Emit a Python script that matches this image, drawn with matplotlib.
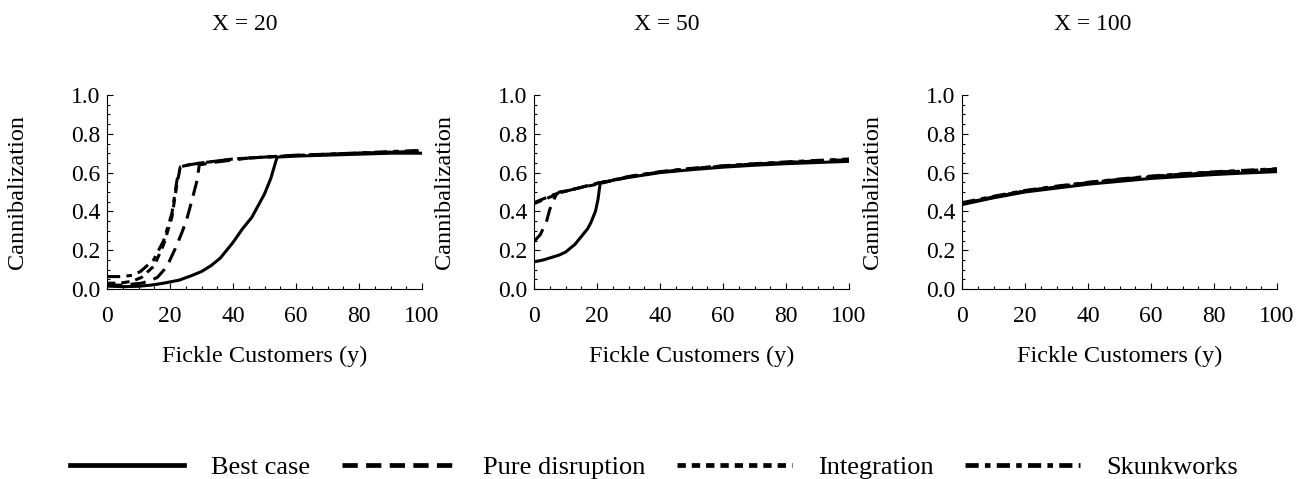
import matplotlib
matplotlib.use("Agg")
import matplotlib.pyplot as plt
from matplotlib.lines import Line2D
from matplotlib.ticker import MultipleLocator

plt.rcParams['font.family'] = ['Liberation Serif', 'DejaVu Serif']

# ---- data (y = fickle customers, value = cannibalization)
titles = ["X = 20", "X = 50", "X = 100"]
series_names = ["Best case", "Pure disruption", "Integration", "Skunkworks"]

# X = 20
x20_best = [0, 5, 10, 14, 18, 23, 27, 30, 33, 36, 40, 43, 46, 50, 52, 54, 60, 70, 80, 90, 100]
y20_best = [0.015, 0.012, 0.014, 0.02, 0.03, 0.046, 0.07, 0.09, 0.12, 0.16, 0.24, 0.31, 0.37, 0.49, 0.57, 0.68, 0.685, 0.69, 0.695, 0.70, 0.70]
x20_pure = [0, 5, 11, 14, 16, 19, 22, 24, 25.5, 27, 28.6, 29.3, 35, 45, 60, 80, 100]
y20_pure = [0.02, 0.02, 0.03, 0.045, 0.06, 0.115, 0.22, 0.30, 0.37, 0.46, 0.56, 0.64, 0.655, 0.675, 0.69, 0.70, 0.71]
x20_integ = [0, 4, 8, 11, 15, 18, 20.6, 22.2, 23.3, 26, 30, 40, 50, 70, 100]
y20_integ = [0.03, 0.03, 0.04, 0.06, 0.12, 0.23, 0.37, 0.54, 0.63, 0.64, 0.65, 0.67, 0.68, 0.695, 0.71]
x20_skunk = [0, 4, 8, 10.6, 14.8, 18, 20.6, 22.2, 23.3, 26, 30, 40, 50, 70, 100]
y20_skunk = [0.064, 0.064, 0.07, 0.09, 0.15, 0.25, 0.39, 0.56, 0.63, 0.64, 0.65, 0.67, 0.68, 0.695, 0.715]

# X = 50
x50_best = [0, 3, 5, 8, 10, 13, 15, 17, 18, 19.5, 20.3, 21, 25, 30, 40, 50, 60, 70, 80, 90, 100]
y50_best = [0.14, 0.15, 0.16, 0.175, 0.19, 0.23, 0.27, 0.31, 0.34, 0.40, 0.46, 0.545, 0.56, 0.575, 0.60, 0.615, 0.628, 0.638, 0.646, 0.652, 0.658]
x50_pure = [0, 2, 4, 5, 6, 7, 8, 10, 14, 20, 25, 30, 40, 50, 60, 70, 80, 90, 100]
y50_pure = [0.245, 0.28, 0.35, 0.41, 0.45, 0.485, 0.50, 0.505, 0.52, 0.545, 0.56, 0.578, 0.603, 0.62, 0.633, 0.644, 0.652, 0.66, 0.666]
x50_integ = [0, 3, 6, 9, 14, 20, 25, 30, 40, 50, 60, 70, 80, 90, 100]
y50_integ = [0.44, 0.46, 0.48, 0.50, 0.52, 0.54, 0.56, 0.578, 0.603, 0.62, 0.633, 0.644, 0.652, 0.66, 0.666]
x50_skunk = [0, 3, 6, 9, 14, 20, 25, 30, 40, 50, 60, 70, 80, 90, 100]
y50_skunk = [0.445, 0.465, 0.485, 0.50, 0.52, 0.545, 0.562, 0.58, 0.605, 0.622, 0.635, 0.646, 0.655, 0.663, 0.67]

# X = 100
x100 = [0, 10, 20, 30, 40, 50, 60, 70, 80, 90, 100]
y100_best = [0.435, 0.47, 0.50, 0.52, 0.54, 0.555, 0.57, 0.58, 0.59, 0.598, 0.605]
y100_pure = [0.44, 0.475, 0.505, 0.528, 0.548, 0.565, 0.58, 0.592, 0.602, 0.61, 0.618]
y100_integ = [0.44, 0.474, 0.504, 0.526, 0.546, 0.563, 0.578, 0.59, 0.60, 0.608, 0.616]
y100_skunk = [0.445, 0.478, 0.508, 0.53, 0.55, 0.567, 0.582, 0.594, 0.604, 0.612, 0.62]

panels = [
    [(x20_best, y20_best), (x20_pure, y20_pure), (x20_integ, y20_integ), (x20_skunk, y20_skunk)],
    [(x50_best, y50_best), (x50_pure, y50_pure), (x50_integ, y50_integ), (x50_skunk, y50_skunk)],
    [(x100, y100_best), (x100, y100_pure), (x100, y100_integ), (x100, y100_skunk)],
]

# dash patterns in points (absolute, not scaled by line width)
dashes = [None, (11, 6), (6, 4.3), (9.5, 4.5, 4, 4.5)]
LW = 2.2

fig = plt.figure(figsize=(12.96, 4.79), dpi=100)
lefts = [107, 534, 962]
title_x = [245, 667, 1093]
for i, (left, data) in enumerate(zip(lefts, panels)):
    ax = fig.add_axes([left / 1296, 1 - 289 / 479, 315 / 1296, 194 / 479])
    for j, (xs, ys) in enumerate(data):
        ln, = ax.plot(xs, ys, color='black', lw=LW, label=series_names[j])
        if dashes[j] is not None:
            ln.set_dashes([d / LW for d in dashes[j]])
    ax.set_xlim(0, 100)
    ax.set_ylim(0, 1.0)
    ax.xaxis.set_major_locator(MultipleLocator(20))
    ax.xaxis.set_minor_locator(MultipleLocator(5))
    ax.yaxis.set_major_locator(MultipleLocator(0.2))
    ax.yaxis.set_minor_locator(MultipleLocator(0.05))
    ax.yaxis.set_major_formatter(plt.FormatStrFormatter('%.1f'))
    ax.spines['top'].set_visible(False)
    ax.spines['right'].set_visible(False)
    ax.tick_params(which='both', direction='in', labelsize=17, width=0.8)
    ax.tick_params(which='major', length=4.5)
    ax.tick_params(which='minor', length=2.5)
    ax.tick_params(axis='x', which='major', pad=12)
    ax.tick_params(axis='y', which='major', pad=5)
    ax.set_ylabel("Cannibalization", fontsize=17.5)
    ax.yaxis.set_label_coords(-0.25, 0.5)
    ax.set_xlabel("Fickle Customers (y)", fontsize=17.5)
    ax.xaxis.set_label_coords(0.5, -0.295)
    fig.text(title_x[i] / 1296, 1 - 25 / 479, titles[i], ha='center', va='center', fontsize=17)

# legend handles drawn a bit heavier than the curves, same dash lengths
HLW = 3.4
handles = []
for name, d in zip(series_names, dashes):
    h = Line2D([], [], color='black', lw=HLW, label=name)
    if d is not None:
        h.set_dashes([v / HLW for v in d])
    handles.append(h)

fig.legend(handles=handles, loc='center', bbox_to_anchor=(654 / 1296, 1 - 467 / 479), ncol=4,
           frameon=False, fontsize=19, handlelength=4.35, handletextpad=1.0,
           columnspacing=1.2, borderpad=0, borderaxespad=0)

fig.savefig("out.png", dpi=100)
